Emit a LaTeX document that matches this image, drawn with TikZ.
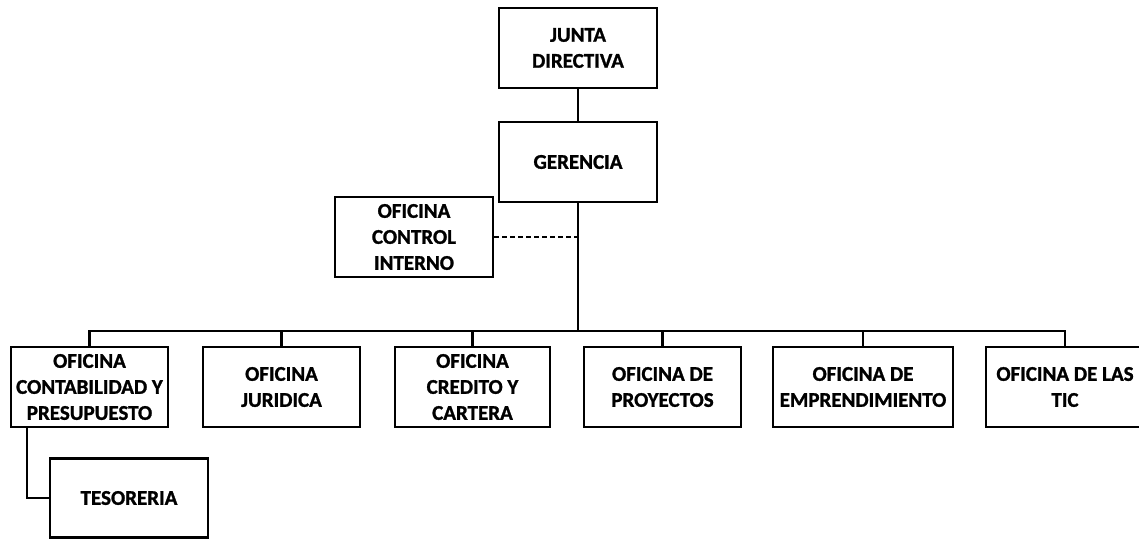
\documentclass[tikz,border=0pt]{standalone}
\usepackage{fontspec}
\setmainfont{Carlito}[BoldFeatures={FakeBold=1.2}]
\begin{document}
\begin{tikzpicture}[x=1pt,y=-1pt,
  box/.style={draw,line width=2.2pt,minimum height=80pt,inner sep=0pt,align=center,
    font=\fontsize{21}{26}\selectfont\bfseries},
  conn/.style={line width=2.2pt}]
\useasboundingbox (0,0) rectangle (1139,539);
\node[box,minimum width=158pt] (junta) at (578,48) {JUNTA\\DIRECTIVA};
\node[box,minimum width=158pt] (ger) at (578,162) {GERENCIA};
\node[box,minimum width=158pt] (ctrl) at (414,237) {OFICINA\\CONTROL\\INTERNO};
\node[box,minimum width=157pt] (b1) at (89.5,387) {OFICINA\\CONTABILIDAD Y\\PRESUPUESTO};
\node[box,minimum width=157pt] (b2) at (281.5,387) {OFICINA\\JURIDICA};
\node[box,minimum width=155pt] (b3) at (472.5,387) {OFICINA\\CREDITO Y\\CARTERA};
\node[box,minimum width=157pt] (b4) at (662.5,387) {OFICINA DE\\PROYECTOS};
\node[box,minimum width=180pt] (b5) at (863,387) {OFICINA DE\\EMPRENDIMIENTO};
\node[box,minimum width=158pt] (b6) at (1065,387) {OFICINA DE LAS\\TIC};
\node[box,minimum width=158pt,minimum height=79pt] (tes) at (129,498) {TESORERIA};
\coordinate (bus) at (578,331);
\coordinate (dash) at (578,237);
\coordinate (tk) at (27,498);
\draw[conn] (junta.south) -- (ger.north);
\draw[conn] (ger.south) -- (bus);
\draw[conn,dashed,line width=1.6pt,dash pattern=on 5pt off 3pt] (ctrl.east) -- (dash);
\draw[conn] (b1.north) -- (b1.north |- bus) -- (b6.north |- bus) -- (b6.north);
\foreach \b in {b2,b3,b4,b5} \draw[conn] (\b.north) -- (\b.north |- bus);
\draw[conn] (tk |- b1.south) -- (tk) -- (tes.west);
\end{tikzpicture}
\end{document}
